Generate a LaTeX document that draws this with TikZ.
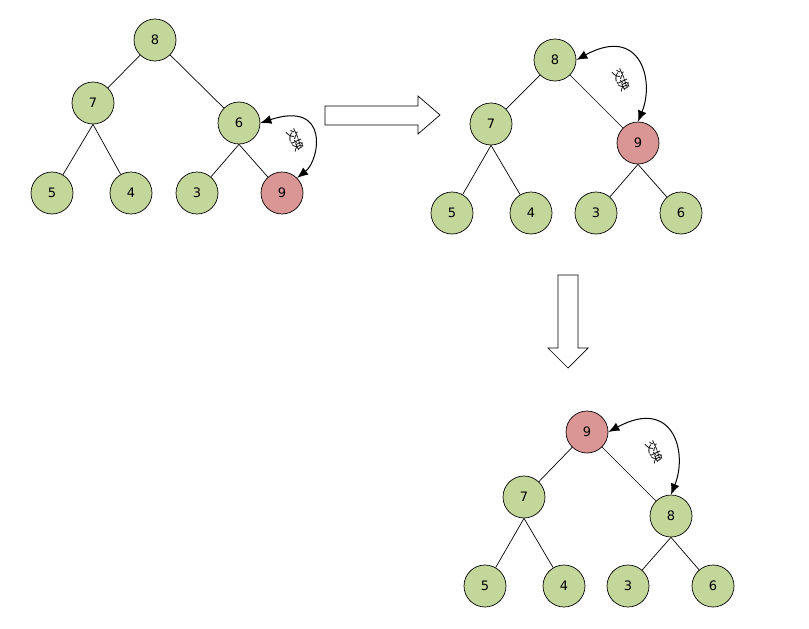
\documentclass[tikz,border=0pt]{standalone}
\usepackage{fontspec}
\setmainfont{DejaVu Sans}
\newfontfamily\cjk{Noto Sans CJK SC}
\usetikzlibrary{arrows.meta}
\begin{document}
\begin{tikzpicture}[x=1pt,y=-1pt,line width=0.7pt,
  g/.style={circle,draw,fill={rgb,255:red,196;green,215;blue,155},minimum size=42pt,inner sep=0pt,font=\fontsize{13}{13}\selectfont},
  r/.style={g,fill={rgb,255:red,218;green,150;blue,148}},
  sw/.style={{Latex[length=11pt,width=9pt]}-{Latex[length=11pt,width=9pt]},line width=1pt},
  lab/.style={font=\cjk\fontsize{12}{12}\selectfont,rotate=-65}]
\useasboundingbox (0,0) rectangle (809,629);
% tree 1
\foreach \n/\x/\y/\t/\s in {a8/155/40/8/g,a7/93/103/7/g,a6/239/123/6/g,a5/52/193/5/g,a4/131/193/4/g,a3/197/193/3/g,a9/282/193/9/r}
  \node[\s] (\n) at (\x,\y) {\t};
\draw (a8)--(a7) (a8)--(a6) (a7.south)--(a5) (a7.south)--(a4) (a6.south)--(a3) (a6.south)--(a9);
\draw[sw] (a6.east) .. controls (330,100) and (320,160) .. (a9.north east);
\node[lab] at (296,140) {交换};
% tree 2
\foreach \n/\x/\y/\t/\s in {b8/555/60/8/g,b7/491/124/7/g,b9/638/143/9/r,b5/452/213/5/g,b4/531/213/4/g,b3/596/213/3/g,b6/681/213/6/g}
  \node[\s] (\n) at (\x,\y) {\t};
\draw (b8)--(b7) (b8)--(b9) (b7.south)--(b5) (b7.south)--(b4) (b9.south)--(b3) (b9.south)--(b6);
\draw[sw] (b8.east) .. controls (640,25) and (655,80) .. (b9.north);
\node[lab] at (622,80) {交换};
% tree 3
\foreach \n/\x/\y/\t/\s in {c9/587/432/9/r,c7/524/497/7/g,c8/671/516/8/g,c5/485/586/5/g,c4/564/586/4/g,c3/628/586/3/g,c6/713/586/6/g}
  \node[\s] (\n) at (\x,\y) {\t};
\draw (c9)--(c7) (c9)--(c8) (c7.south)--(c5) (c7.south)--(c4) (c8.south)--(c3) (c8.south)--(c6);
\draw[sw] (c9.east) .. controls (673,397) and (688,452) .. (c8.north);
\node[lab] at (655,452) {交换};
% block arrows
\draw (325,106)--(418,106)--(418,96)--(440,115)--(418,134)--(418,125)--(325,125)--cycle;
\draw (558,275)--(578,275)--(578,348)--(588,348)--(568,368)--(548,348)--(558,348)--cycle;
\end{tikzpicture}
\end{document}
